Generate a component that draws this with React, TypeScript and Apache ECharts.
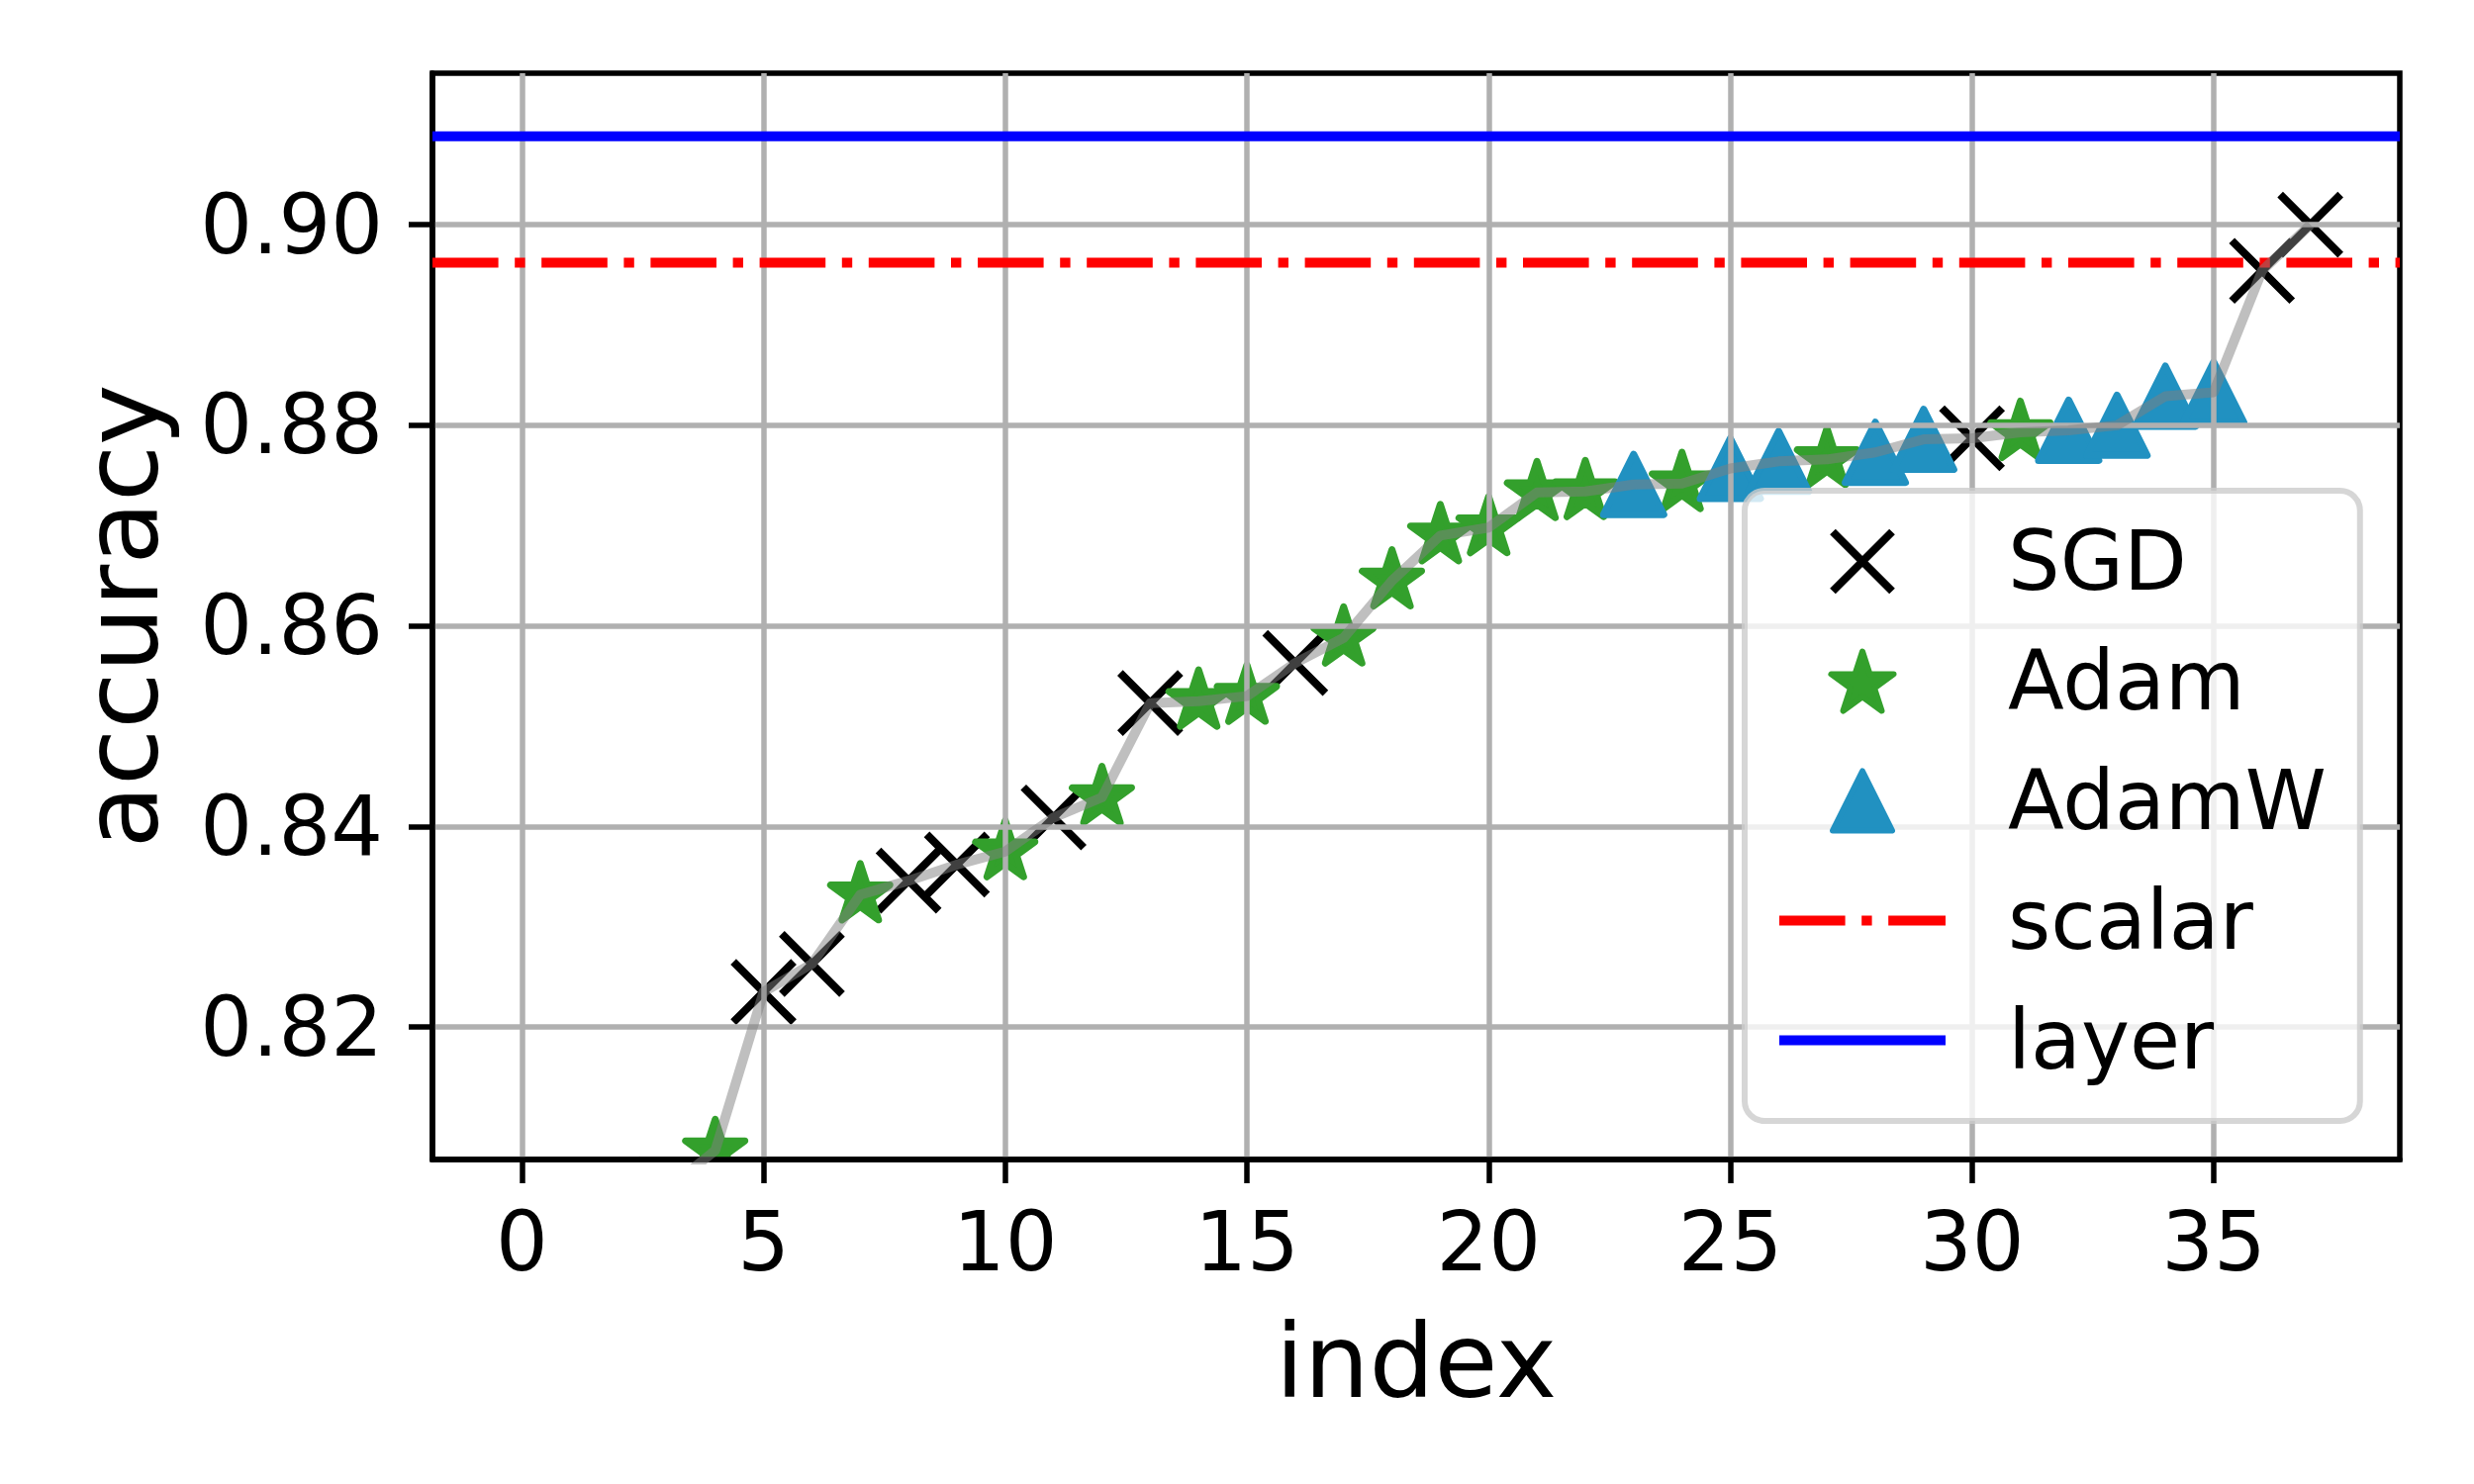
import { useEffect, useRef } from 'react';
import * as echarts from 'echarts';

// ---- data ----
const INDEX = [
  0, 1, 2, 3, 4, 5, 6, 7, 8, 9, 10, 11, 12, 13, 14, 15, 16, 17, 18, 19,
  20, 21, 22, 23, 24, 25, 26, 27, 28, 29, 30, 31, 32, 33, 34, 35, 36, 37,
];
const ACCURACY = [
  0.7710, 0.7905, 0.7962, 0.8038, 0.8077, 0.8235, 0.8263, 0.8332, 0.8346, 0.8362,
  0.8375, 0.8409, 0.8429, 0.8523, 0.8525, 0.8530, 0.8563, 0.8588, 0.8645, 0.8690,
  0.8698, 0.8733, 0.8734, 0.8741, 0.8742, 0.8757, 0.8764, 0.8766, 0.8773, 0.8786,
  0.8787, 0.8793, 0.8795, 0.8800, 0.8829, 0.8833, 0.8954, 0.9000,
];
const OPTIMIZER = [
  'SGD', 'Adam', 'SGD', 'SGD', 'Adam', 'SGD', 'SGD', 'Adam', 'SGD', 'SGD',
  'Adam', 'SGD', 'Adam', 'SGD', 'Adam', 'Adam', 'SGD', 'Adam', 'Adam', 'Adam',
  'Adam', 'Adam', 'Adam', 'AdamW', 'Adam', 'AdamW', 'AdamW', 'Adam', 'AdamW', 'AdamW',
  'SGD', 'Adam', 'AdamW', 'AdamW', 'AdamW', 'AdamW', 'SGD', 'SGD',
];
const X_TICKS = [0, 5, 10, 15, 20, 25, 30, 35];
const Y_TICKS = [0.82, 0.84, 0.86, 0.88, 0.9];
const X_LIMITS = [-1.85, 38.85];
const Y_LIMITS = [0.8068, 0.9151];
const SCALAR_ACCURACY = 0.8962;
const LAYER_ACCURACY = 0.9088;
const LEGEND_NAMES = ['SGD', 'Adam', 'AdamW', 'scalar', 'layer'];

// ---- style ----
const FONT = 'DejaVu Sans';
const GREEN = '#33a02c';
const BLUE = '#2191c1';
const GRID_GRAY = '#b0b0b0';
const DASH_DOT = [66.6, 16.6, 10.4, 16.6];
const X_STROKE = 8;

// unit star (outer radius 1, inner 0.382), pointing up
const STAR_UNIT = [
  [0, -1], [0.2245, -0.309], [0.9511, -0.309], [0.3633, 0.118], [0.5878, 0.809],
  [0, 0.382], [-0.5878, 0.809], [-0.3633, 0.118], [-0.9511, -0.309], [-0.2245, -0.309],
];
const TRI_UNIT = [[0, -1], [1, 1], [-1, 1]];

const pathFrom = (pts: number[][], s: number, dx: number, dy: number) =>
  'M' + pts.map((p) => `${(p[0] * s + dx).toFixed(2)},${(p[1] * s + dy).toFixed(2)}`).join('L') + 'Z';

// legend icons sized so that they are not rescaled (60 px tall box)
const LEGEND_X = 'path://M0,0L60,60M60,0L0,60';
const LEGEND_STAR = 'path://' + pathFrom(STAR_UNIT, 33.17, 31.55, 33.17);
const LEGEND_TRI = 'path://' + pathFrom(TRI_UNIT, 30, 30, 30);

const pointsOf = (name: string) =>
  INDEX.filter((i) => OPTIMIZER[i] === name).map((i) => [INDEX[i], ACCURACY[i]]);

const makeRender = (kind: string) => (_params: any, api: any) => {
  const c = api.coord([api.value(0), api.value(1)]);
  const x = c[0];
  const y = c[1];
  if (kind === 'SGD') {
    const h = 30.5;
    return {
      type: 'path',
      shape: { pathData: `M${x - h},${y - h}L${x + h},${y + h}M${x + h},${y - h}L${x - h},${y + h}` },
      style: { fill: 'none', stroke: '#000000', lineWidth: X_STROKE, lineCap: 'butt' },
    };
  }
  if (kind === 'Adam') {
    const R = 31.5;
    return {
      type: 'polygon',
      shape: { points: STAR_UNIT.map((p) => [x + p[0] * R, y + p[1] * R]) },
      style: { fill: GREEN, stroke: GREEN, lineWidth: 7, lineJoin: 'round' },
    };
  }
  const h = 30.5;
  return {
    type: 'polygon',
    shape: { points: TRI_UNIT.map((p) => [x + p[0] * h, y + p[1] * h]) },
    style: { fill: BLUE, stroke: BLUE, lineWidth: 7, lineJoin: 'round' },
  };
};

const markerSeries = (name: string, color: string) => ({
  type: 'custom',
  name,
  data: pointsOf(name),
  encode: { x: 0, y: 1 },
  renderItem: makeRender(name),
  clip: true,
  z: 0,
  silent: true,
  itemStyle: { color },
});

const hLineSeries = (name: string, value: number, color: string, type: any) => ({
  type: 'line',
  name,
  data: [
    [X_LIMITS[0], value],
    [X_LIMITS[1], value],
  ],
  symbol: 'none',
  silent: true,
  z: 3,
  itemStyle: { color },
  lineStyle: { color, width: 10, type, cap: 'butt' },
});

export default function App() {
  const ref = useRef<HTMLDivElement>(null);
  useEffect(() => {
    if (!ref.current) return;
    const chart = echarts.init(ref.current, undefined, { renderer: 'svg' });
    const axisLabelBase = { fontFamily: FONT, fontSize: 83, color: '#000000', lineHeight: 83 };
    chart.setOption({
      animation: false,
      backgroundColor: '#ffffff',
      textStyle: { fontFamily: FONT },
      grid: {
        left: 437,
        top: 74,
        width: 1988,
        height: 1098,
        show: true,
        borderColor: '#000000',
        borderWidth: 5.5,
        backgroundColor: 'transparent',
        containLabel: false,
      },
      xAxis: {
        type: 'value',
        min: X_LIMITS[0],
        max: X_LIMITS[1],
        z: 1,
        name: 'index',
        nameLocation: 'middle',
        nameGap: 152,
        nameTextStyle: { fontFamily: FONT, fontSize: 104, color: '#000000', lineHeight: 104 },
        axisLine: { show: true, onZero: false, lineStyle: { color: '#000000', width: 5.5 } },
        axisTick: {
          show: true,
          customValues: X_TICKS,
          length: 24,
          inside: false,
          lineStyle: { color: '#000000', width: 5.5 },
        },
        axisLabel: {
          ...axisLabelBase,
          customValues: X_TICKS,
          margin: 42,
          formatter: (v: number) => String(v),
        },
        splitLine: { show: true, lineStyle: { color: GRID_GRAY, width: 5.5 } },
      },
      yAxis: {
        type: 'value',
        min: Y_LIMITS[0],
        max: Y_LIMITS[1],
        z: 1,
        name: 'accuracy',
        nameLocation: 'middle',
        nameGap: 262,
        nameTextStyle: { fontFamily: FONT, fontSize: 104, color: '#000000', lineHeight: 104 },
        axisLine: { show: true, onZero: false, lineStyle: { color: '#000000', width: 5.5 } },
        axisTick: {
          show: true,
          customValues: Y_TICKS,
          length: 24,
          inside: false,
          lineStyle: { color: '#000000', width: 5.5 },
        },
        axisLabel: {
          ...axisLabelBase,
          customValues: Y_TICKS,
          margin: 50,
          formatter: (v: number) => v.toFixed(2),
        },
        splitLine: { show: true, lineStyle: { color: GRID_GRAY, width: 5.5 } },
      },
      legend: {
        show: true,
        orient: 'vertical',
        left: 1763,
        top: 496,
        selectedMode: false,
        itemWidth: 168,
        itemHeight: 60,
        itemGap: 38,
        padding: [30, 34, 40, 30],
        backgroundColor: 'rgba(255,255,255,0.8)',
        borderColor: 'rgba(204,204,204,0.8)',
        borderWidth: 6,
        borderRadius: 20,
        symbolKeepAspect: true,
        itemStyle: { borderWidth: 'inherit' },
        lineStyle: { width: 'inherit' },
        textStyle: {
          fontFamily: FONT,
          fontSize: 83,
          color: '#000000',
          lineHeight: 60,
          padding: [0, 0, 0, 58],
        },
        data: [
          {
            name: LEGEND_NAMES[0],
            icon: LEGEND_X,
            itemStyle: { color: 'rgba(0,0,0,0)', borderColor: '#000000', borderWidth: X_STROKE, borderCap: 'butt' },
          },
          {
            name: LEGEND_NAMES[1],
            icon: LEGEND_STAR,
            itemStyle: { color: GREEN, borderColor: GREEN, borderWidth: 6, borderJoin: 'round' },
          },
          {
            name: LEGEND_NAMES[2],
            icon: LEGEND_TRI,
            itemStyle: { color: BLUE, borderColor: BLUE, borderWidth: 6, borderJoin: 'round' },
          },
          { name: LEGEND_NAMES[3], itemStyle: { opacity: 0 } },
          { name: LEGEND_NAMES[4], itemStyle: { opacity: 0 } },
        ],
      },
      series: [
        markerSeries('SGD', '#000000'),
        markerSeries('Adam', GREEN),
        markerSeries('AdamW', BLUE),
        hLineSeries('scalar', SCALAR_ACCURACY, '#ff0000', DASH_DOT),
        hLineSeries('layer', LAYER_ACCURACY, '#0000ff', 'solid'),
        {
          type: 'line',
          name: 'trend',
          data: INDEX.map((i) => [INDEX[i], ACCURACY[i]]),
          symbol: 'none',
          silent: true,
          clip: true,
          z: 4,
          lineStyle: { color: '#808080', width: 10, opacity: 0.5, join: 'round', cap: 'butt' },
        },
      ],
    });
    return () => chart.dispose();
  }, []);
  return (
    <div
      ref={ref}
      style={{ position: 'absolute', left: 0, top: 0, width: 2500, height: 1500, background: '#ffffff' }}
    />
  );
}
